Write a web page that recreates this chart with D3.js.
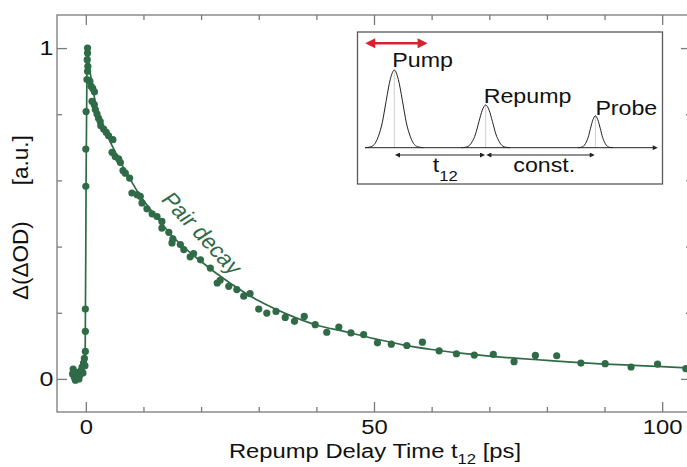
<!DOCTYPE html>
<html>
<head>
<meta charset="utf-8">
<script src="https://cdn.jsdelivr.net/npm/d3@7"></script>
<style>
  body { margin: 0; background: #fff; }
  svg { display: block; }
</style>
</head>
<body>
<div id="chart"></div>
<script>
var delayTimes = [-2.3, -2.2, -2.0, -1.8, -1.6, -1.4, -1.2, -1.0, -0.8, -0.65, -0.5, -0.4, -0.25, -0.15,
    -0.08, -0.08, -0.08, 0.0, 0.0, 0.05,
    0.2, 0.25, 0.3, 0.3, 0.35, 0.3, 0.7, 0.9, 1.07, 1.2, 1.47, 1.5, 1.65, 1.94, 2.2, 2.5, 2.6,
    3.1, 3.55, 3.95, 4.55, 4.7, 5.1, 5.7, 6.0, 6.45, 6.85, 7.6, 8.0, 8.9, 9.45, 9.75,
    10.6, 11.5, 12.35, 13.2, 13.2, 14.4, 14.95, 15.1, 16.4, 17.0, 18.1, 18.7, 19.9,
    21.6, 22.8, 23.3, 24.8, 26.2, 27.4, 28.5, 30.0, 31.4, 33.0, 34.6, 36.2, 37.9, 39.8,
    41.8, 43.9, 46.0, 48.2, 50.6, 53.0, 55.7, 58.4, 61.3, 64.3, 67.4, 70.7, 74.3, 78.0,
    81.7, 85.9, 90.1, 94.6, 99.2, 104.1];
var signal = [0.015, 0.03, 0.005, -0.004, 0.02, 0.01, 0.0, 0.012, 0.026, 0.036, 0.018, 0.048, 0.062, 0.04,
    0.083, 0.144, 0.211, 0.582, 0.695, 0.808,
    0.905, 0.965, 1.0, 0.985, 0.945, 0.93, 0.9, 0.885, 0.839, 0.878, 0.829, 0.868, 0.814, 0.801, 0.788, 0.778, 0.765,
    0.755, 0.745, 0.735, 0.685, 0.723, 0.672, 0.665, 0.654, 0.630, 0.622, 0.607, 0.562, 0.557, 0.552, 0.532,
    0.514, 0.499, 0.491, 0.476, 0.456, 0.443, 0.411, 0.423, 0.406, 0.391, 0.369, 0.379, 0.360,
    0.335, 0.290, 0.298, 0.280, 0.270, 0.250, 0.258, 0.211, 0.199, 0.204, 0.186, 0.174, 0.189, 0.164,
    0.141, 0.157, 0.139, 0.134, 0.109, 0.105, 0.101, 0.111, 0.085, 0.076, 0.072, 0.074, 0.052, 0.071,
    0.070, 0.048, 0.046, 0.036, 0.045, 0.031];

// fitted curve
var fitTimes = [-2.5, -1.5, -0.6, -0.3, -0.1, 0.05, 0.2, 0.3, 0.6, 1, 1.5, 2, 3, 4, 5, 6, 7, 8, 9, 10,
    12, 15, 20, 25, 30, 35, 40, 45, 50, 55, 60, 65, 70, 75, 80, 85, 90, 95, 100, 105];
var fitValues = [0.012, 0.014, 0.02, 0.03, 0.1, 0.6, 0.95, 1.0, 0.945, 0.9, 0.85, 0.81, 0.765, 0.725, 0.69, 0.655, 0.625, 0.595, 0.565, 0.54,
    0.495, 0.432, 0.355, 0.29, 0.236, 0.195, 0.163, 0.143, 0.122, 0.103, 0.089, 0.078, 0.069, 0.062, 0.056, 0.050, 0.045, 0.041, 0.037, 0.033];

// ticks
var xMinorTicks = [10, 20, 30, 40, 60, 70, 80, 90];
var xMajorTicks = [0, 50, 100];
var yMinorTicks = [0.2, 0.4, 0.6, 0.8];
var yMajorTicks = [0, 1];

// inset sketch: pulse sequence
var pulseNames = ["Pump", "Repump", "Probe"];
var pulseCenters = [0, 1, 2.2];
var pulseHeights = [1, 0.55, 0.41];
var pulseWidths = [0.088, 0.074, 0.053];
var profileOffsets = [-3.6, -3, -2.5, -2, -1.5, -1, -0.5, 0, 0.5, 1, 1.5, 2, 2.5, 3, 3.6];
var profileHeights = [0, 0.01, 0.04, 0.14, 0.32, 0.61, 0.88, 1, 0.88, 0.61, 0.32, 0.14, 0.04, 0.01, 0];

var SX = 1.19;   // the original figure is a bit wider than tall
var green = "#2f6b47";
var frameColor = "#7a7a7a";
var font = "'Liberation Sans', Arial, Helvetica, sans-serif";

var margin = { top: 15, right: -4, bottom: 55, left: 57 },
    width = 687 - margin.left - margin.right,
    height = 467 - margin.top - margin.bottom;

var root = d3.select("#chart")
    .append("svg")
    .attr("width", 687)
    .attr("height", 467)
    .attr("font-family", font);

var defs = root.append("defs");

var svg = root.append("g")
    .attr("transform", "translate(" + margin.left + "," + margin.top + ")");

var x = d3.scaleLinear().domain([-5, 105]).range([0, width]);
var y = d3.scaleLinear().domain([-0.1, 1.1]).range([height, 0]);

// frame
svg.append("rect")
    .attr("width", width)
    .attr("height", height)
    .attr("fill", "none")
    .attr("stroke", frameColor)
    .attr("stroke-width", 1.3);

function addAxis(axis, values, size, pos, labels) {
    var g = svg.append("g")
        .attr("transform", pos)
        .call(axis.tickValues(values).tickSize(-size).tickPadding(labels ? 8 : 3)
            .tickFormat(labels ? d3.format("d") : ""));
    g.select(".domain").remove();
    g.selectAll(".tick line").attr("stroke", frameColor).attr("stroke-width", 1.3);
    g.attr("font-family", font).attr("font-size", 20);
    g.selectAll("text").attr("fill", "#111").attr("transform", "scale(" + SX + ",1)");
    return g;
}

// bottom / top
addAxis(d3.axisBottom(x), xMinorTicks, 5, "translate(0," + height + ")", false);
addAxis(d3.axisBottom(x), xMajorTicks, 10, "translate(0," + height + ")", true);
addAxis(d3.axisTop(x), xMinorTicks, 5, "translate(0,0)", false);
addAxis(d3.axisTop(x), xMajorTicks, 10, "translate(0,0)", false);
// left / right
addAxis(d3.axisLeft(y), yMinorTicks, 5, "translate(0,0)", false);
addAxis(d3.axisLeft(y), yMajorTicks, 10, "translate(0,0)", true)
    .attr("font-size", 21)
    .selectAll("text").attr("x", -3);
addAxis(d3.axisRight(y), yMinorTicks, 5, "translate(" + width + ",0)", false);
addAxis(d3.axisRight(y), yMajorTicks, 10, "translate(" + width + ",0)", false);

// x label
var xl = root.append("g")
    .attr("transform", "translate(375,458) scale(" + SX + ",1)")
    .append("text")
    .attr("text-anchor", "middle")
    .attr("font-size", 20)
    .attr("fill", "#111");
xl.append("tspan").text("Repump Delay Time t");
xl.append("tspan").attr("font-size", 14).attr("dy", 6).text("12");
xl.append("tspan").attr("dy", -6).text(" [ps]");

// y label
var yl = root.append("text")
    .attr("transform", "translate(28,300) rotate(-90)")
    .attr("font-size", 22.5)
    .attr("fill", "#111");
yl.append("tspan").text("Δ(ΔOD)");
yl.append("tspan").attr("dx", 36).text("[a.u.]");

// fitted curve
var fit = fitTimes.map(function (t, i) { return [t, fitValues[i]]; });
svg.append("path")
    .datum(fit)
    .attr("fill", "none")
    .attr("stroke", green)
    .attr("stroke-width", 1.7)
    .attr("d", d3.line()
        .x(function (d) { return x(d[0]); })
        .y(function (d) { return y(d[1]); })
        .curve(d3.curveMonotoneX));

// data points
svg.selectAll(".dot")
    .data(delayTimes)
    .enter()
    .append("circle")
    .attr("class", "dot")
    .attr("cx", function (d) { return x(d); })
    .attr("cy", function (d, i) { return y(signal[i]); })
    .attr("r", 3.6)
    .style("fill", green);

// "Pair decay" label along the curve
svg.append("g")
    .attr("transform", "translate(" + x(20.2) + "," + y(0.44) + ") scale(" + SX + ",1) rotate(52)")
    .append("text")
    .attr("text-anchor", "middle")
    .attr("dy", "0.35em")
    .attr("font-size", 20.5)
    .attr("fill", green)
    .text("Pair decay");

// ---- inset ----
var inset = root.append("g");
inset.append("rect")
    .attr("x", 357.5)
    .attr("y", 32)
    .attr("width", 305)
    .attr("height", 152)
    .attr("fill", "#fff")
    .attr("stroke", "#5a5a5a")
    .attr("stroke-width", 1.3);

var xi = d3.scaleLinear().domain([0, 1]).range([394.3, 485.7]);
var yi = d3.scaleLinear().domain([0, 1]).range([147.7, 70]);

function addMarker(id, color, w, h) {
    defs.append("marker")
        .attr("id", id)
        .attr("viewBox", "0 0 10 10")
        .attr("refX", 3)
        .attr("refY", 5)
        .attr("markerUnits", "userSpaceOnUse")
        .attr("markerWidth", w)
        .attr("markerHeight", h)
        .attr("orient", "auto-start-reverse")
        .append("path")
        .attr("d", "M0,0L10,5L0,10z")
        .attr("fill", color);
}
addMarker("headRed", "#d3232e", 12, 10);
addMarker("headBlack", "#222", 6, 5);

function arrow(x1, x2, yy, id, len, color, sw, both) {
    var back = len * 0.7;
    inset.append("line")
        .attr("x1", both ? x1 + back : x1)
        .attr("x2", x2 - back)
        .attr("y1", yy)
        .attr("y2", yy)
        .attr("stroke", color)
        .attr("stroke-width", sw)
        .attr("marker-start", both ? "url(#" + id + ")" : null)
        .attr("marker-end", "url(#" + id + ")");
}

// pulses
pulseNames.forEach(function (name, i) {
    var pts = profileOffsets.map(function (o, j) {
        return [xi(pulseCenters[i] + o * pulseWidths[i]), yi(profileHeights[j] * pulseHeights[i])];
    });
    inset.append("line")
        .attr("x1", xi(pulseCenters[i]))
        .attr("x2", xi(pulseCenters[i]))
        .attr("y1", yi(0))
        .attr("y2", yi(pulseHeights[i]))
        .attr("stroke", "#cfcfcf")
        .attr("stroke-width", 1);
    inset.append("path")
        .datum(pts)
        .attr("fill", "none")
        .attr("stroke", "#222")
        .attr("stroke-width", 1)
        .attr("d", d3.line().curve(d3.curveMonotoneX));
});

// time axis of the sketch
arrow(xi(-0.32), xi(2.89), yi(0), "headBlack", 6, "#222", 1, false);
arrow(xi(0), xi(1), 155, "headBlack", 6, "#222", 1, true);
arrow(xi(1), xi(2.2), 155, "headBlack", 6, "#222", 1, true);
// scanned pump delay
arrow(xi(-0.333), xi(0.38), 43.3, "headRed", 12, "#d3232e", 2.6, true);

function insetText(px, py, txt) {
    return inset.append("g")
        .attr("transform", "translate(" + px + "," + py + ") scale(" + SX + ",1)")
        .append("text")
        .attr("font-size", 19.5)
        .attr("fill", "#111")
        .text(txt);
}
insetText(xi(0) - 2, 66.7, pulseNames[0]);
insetText(xi(1) - 2, 103.3, pulseNames[1]);
insetText(xi(2.2), 115, pulseNames[2]);
var t12 = insetText(432.7, 171.7, "t");
t12.append("tspan").attr("font-size", 14).attr("dy", 9).text("12");
insetText(513.3, 171.7, "const.");
</script>
</body>
</html>
